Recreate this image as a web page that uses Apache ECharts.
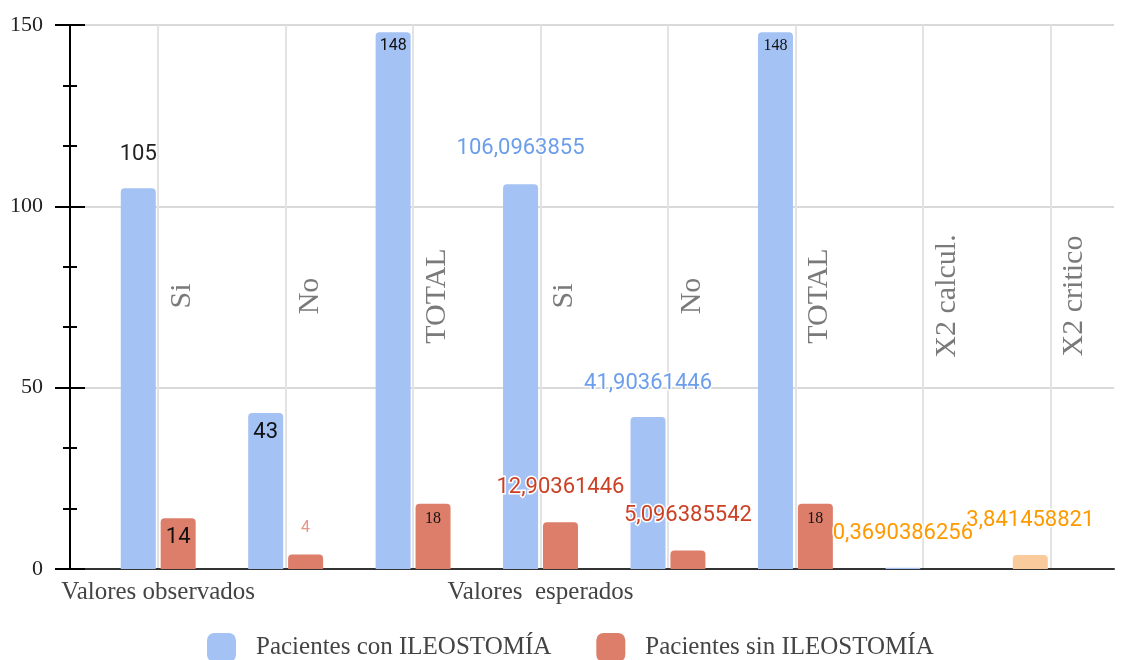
<!DOCTYPE html>
<html>
<head>
<meta charset="utf-8">
<title>Pacientes con y sin ILEOSTOMÍA</title>
<script src="https://cdn.jsdelivr.net/npm/echarts@6/dist/echarts.min.js"></script>
<style>
  html, body { margin: 0; padding: 0; background: #fff; }
  #chart { width: 1123px; height: 660px; }
</style>
</head>
<body>
<div id="chart"></div>
<script>
// Sub-category of each column and the group it opens
const categories = ['Si', 'No', 'TOTAL', 'Si', 'No', 'TOTAL', 'X2 calcul.', 'X2 critico'];
const groupLabels = ['Valores observados', '', '', 'Valores  esperados', '', '', '', ''];

// Series values
const seriesNames = ['Pacientes con ILEOSTOMÍA', 'Pacientes sin ILEOSTOMÍA'];
const conIleostomia = [105, 43, 148, 106.0963855, 41.90361446, 148, 0.3690386256, 3.841458821];
const sinIleostomia = [14, 4, 18, 12.90361446, 5.096385542, 18, null, null];

// Value axis
const yMin = 0;
const yMax = 150;
const yInterval = 50;

const BLUE = '#a4c2f4';
const RED = '#dd7e6b';
const PEACH = '#f9cb9c';
const SERIF = '"Liberation Serif", "DejaVu Serif", serif';
const SANS = 'Roboto, "Noto Sans", sans-serif';

const fmt = v => String(v).replace('.', ',');

const halo = { textBorderColor: '#fff', textBorderWidth: 3 };
const bigNum = { fontFamily: SANS, fontSize: 22 };

// Label look for each column of each series
const conLabelStyle = [
  { position: 'top', distance: 23, color: '#222', ...bigNum },
  { position: 'insideTop', distance: 8, color: '#111', ...bigNum },
  { position: 'insideTop', distance: 6, color: '#111', fontFamily: SANS, fontSize: 16 },
  { position: 'top', distance: 25, color: '#6d9eeb', ...bigNum, ...halo },
  { position: 'top', distance: 23, color: '#6d9eeb', ...bigNum, ...halo },
  { position: 'insideTop', distance: 6, color: '#111', fontFamily: SERIF, fontSize: 16 },
  { position: 'top', distance: 23, color: '#ff9900', ...bigNum, ...halo },
  { position: 'top', distance: 24, color: '#ff9900', ...bigNum, ...halo }
];
const sinLabelStyle = [
  { position: 'insideTop', distance: 8, color: '#111', ...bigNum },
  { position: 'top', distance: 18, color: '#e8958a', fontFamily: SANS, fontSize: 16 },
  { position: 'insideTop', distance: 7, color: '#111', fontFamily: SERIF, fontSize: 16 },
  { position: 'top', distance: 24, color: '#cc4125', ...bigNum, ...halo },
  { position: 'top', distance: 24, color: '#cc4125', ...bigNum, ...halo },
  { position: 'insideTop', distance: 7, color: '#111', fontFamily: SERIF, fontSize: 16 },
  {},
  {}
];
// The critical chi-square column is tinted differently
const conBarColor = [BLUE, BLUE, BLUE, BLUE, BLUE, BLUE, BLUE, PEACH];

function buildData(values, labelStyles, colors) {
  return values.map((v, i) => {
    const item = { value: v };
    if (v !== null && labelStyles[i] && labelStyles[i].position) {
      item.label = Object.assign({ show: true, formatter: () => fmt(v) }, labelStyles[i]);
    }
    if (colors) item.itemStyle = { color: colors[i] };
    return item;
  });
}

const chart = echarts.init(document.getElementById('chart'), null, { renderer: 'canvas' });

const plotTop = 25;
const plotBottom = 91;
const axisX = 70;
const bandLeft = 94.5;
const right = 9;
const plotWidth = 1123 - right - axisX;
const plotHeight = 660 - plotTop - plotBottom;

const option = {
  backgroundColor: '#fff',
  animation: false,
  grid: [
    // bars
    { left: bandLeft, right: right, top: plotTop, bottom: plotBottom, outerBoundsMode: 'none' },
    // sub-category names and column lines
    { left: bandLeft, right: right, top: plotTop, bottom: plotBottom, outerBoundsMode: 'none' },
    // value axis, horizontal lines and baseline
    { left: axisX, right: right, top: plotTop, bottom: plotBottom, outerBoundsMode: 'none' }
  ],
  legend: {
    data: seriesNames,
    left: 207,
    top: 633,
    padding: 0,
    icon: 'roundRect',
    itemWidth: 29,
    itemHeight: 29,
    itemGap: 45,
    textStyle: { fontFamily: SERIF, fontSize: 25, color: '#444', padding: [0, 0, 0, 15] }
  },
  xAxis: [
    {
      gridIndex: 0,
      type: 'category',
      data: categories,
      position: 'bottom',
      axisLine: { show: false, onZero: false },
      axisTick: { show: false },
      splitLine: { show: false },
      axisLabel: {
        interval: 0,
        margin: 11,
        fontFamily: SERIF,
        fontSize: 25,
        color: '#444',
        formatter: (val, idx) => groupLabels[idx]
      }
    },
    {
      gridIndex: 1,
      type: 'category',
      data: categories,
      position: 'bottom',
      offset: -(plotHeight - 271),
      axisLine: { show: false, onZero: false },
      axisTick: { show: false },
      splitLine: {
        show: true,
        alignWithLabel: true,
        lineStyle: { color: '#e3e3e3', width: 2 }
      },
      axisLabel: {
        interval: 0,
        rotate: 90,
        margin: 0,
        align: 'center',
        verticalAlign: 'top',
        padding: [9, 0, 0, 0],
        fontFamily: SERIF,
        fontSize: 30,
        color: '#7a7a7a'
      }
    },
    {
      gridIndex: 2,
      type: 'category',
      data: categories,
      position: 'bottom',
      axisLine: { show: true, onZero: false, lineStyle: { color: '#333', width: 2 } },
      axisTick: { show: false },
      axisLabel: { show: false },
      splitLine: { show: false }
    }
  ],
  yAxis: [
    { gridIndex: 0, type: 'value', min: yMin, max: yMax, interval: yInterval, show: false },
    { gridIndex: 1, type: 'value', min: yMin, max: yMax, interval: yInterval, show: false },
    {
      gridIndex: 2,
      type: 'value',
      position: 'left',
      min: yMin,
      max: yMax,
      interval: yInterval,
      axisLine: { show: true, onZero: false, lineStyle: { color: '#000', width: 2 } },
      axisTick: { show: true, length: 15, lineStyle: { color: '#000', width: 2 } },
      minorTick: { show: true, splitNumber: 3, length: 7, lineStyle: { color: '#000', width: 2 } },
      axisLabel: { margin: 27, fontFamily: SERIF, fontSize: 22, color: '#222' },
      splitLine: { show: true, lineStyle: { color: '#cccccc', width: 1.5 } }
    },
    {
      // inner half of the tick marks
      gridIndex: 2,
      type: 'value',
      position: 'right',
      offset: -plotWidth,
      min: yMin,
      max: yMax,
      interval: yInterval,
      axisLine: { show: false, onZero: false },
      axisTick: { show: true, length: 15, lineStyle: { color: '#000', width: 2 } },
      minorTick: { show: true, splitNumber: 3, length: 7, lineStyle: { color: '#000', width: 2 } },
      axisLabel: { show: false },
      splitLine: { show: false }
    }
  ],
  series: [
    {
      name: seriesNames[0],
      type: 'bar',
      xAxisIndex: 0,
      yAxisIndex: 0,
      barWidth: 35,
      barGap: '14%',
      itemStyle: { color: BLUE, borderRadius: [4, 4, 0, 0] },
      data: buildData(conIleostomia, conLabelStyle, conBarColor),
      z: 3
    },
    {
      name: seriesNames[1],
      type: 'bar',
      xAxisIndex: 0,
      yAxisIndex: 0,
      barWidth: 35,
      barGap: '14%',
      itemStyle: { color: RED, borderRadius: [4, 4, 0, 0] },
      data: buildData(sinIleostomia, sinLabelStyle, null),
      z: 3
    }
  ]
};

chart.setOption(option);
</script>
</body>
</html>
